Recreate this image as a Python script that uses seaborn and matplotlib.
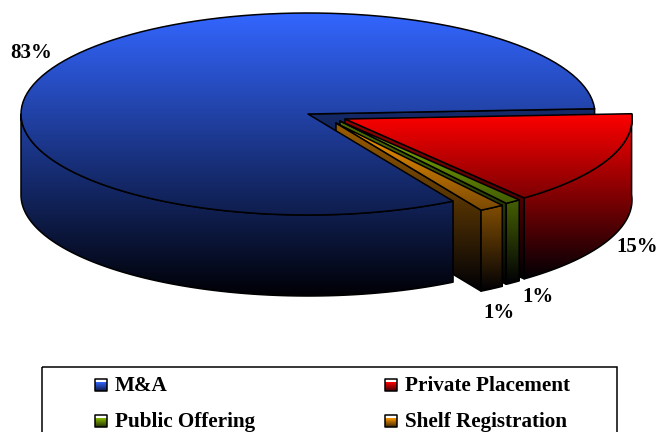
import numpy as np
import seaborn as sns
import matplotlib.pyplot as plt
from matplotlib.patches import Polygon, Rectangle

# Data
categories = ['M&A', 'Private Placement', 'Public Offering', 'Shelf Registration']
shares = [82.6, 15.1, 0.9, 1.4]
pct_labels = ['83%', '15%', '1%', '1%']
base_colors = ['#3366ff', '#ff0000', '#88bb00', '#ff9900']

# Pie geometry, in pixels
RX, RY, DEPTH = 287, 101, 81
START = 3.0
apex = {'M&A': (308, 114), 'Private Placement': (345, 119),
        'Public Offering': (340, 121), 'Shelf Registration': (336, 123)}
label_pos = [(31, 53), (637, 247), (538, 297), (499, 313)]

sns.set_theme(style='white')
plt.rcParams['font.family'] = ['Liberation Serif', 'DejaVu Serif']

fig, ax = plt.subplots(figsize=(6.58, 4.32), dpi=100)
ax.set_position([0, 0, 1, 1])
ax.axis('off')

order = 0


def fill(pts, color, y0, y1, shade=1.0):
    # gradient from the slice colour down to near black, clipped to the polygon
    global order
    order += 1
    top = np.array(plt.matplotlib.colors.to_rgb(color)) * shade
    cmap = sns.blend_palette([top, (0, 0, 0.02)], n_colors=256, as_cmap=True)
    pts = np.array(pts)
    grad = np.linspace(0, 1, 256)[:, None]
    im = ax.imshow(grad, extent=(pts[:, 0].min() - 1, pts[:, 0].max() + 1, y1, y0),
                   cmap=cmap, aspect='auto', zorder=order, vmin=0, vmax=1)
    edge = Polygon(pts, closed=True, fill=False, edgecolor='black', lw=1.1,
                   joinstyle='round', zorder=order + 0.5)
    ax.add_patch(edge)
    im.set_clip_path(edge)


def arc(c, a0, a1, drop=0):
    t = np.radians(np.linspace(a0, a1, 120))
    return np.column_stack([c[0] + RX * np.cos(t), c[1] - RY * np.sin(t) + drop])


def prism(name, a0, a1, color):
    # a0 -> a1 runs counterclockwise, a0 is the left cut seen from the front
    c = apex[name]
    top = arc(c, a0, a1)
    y0 = min(c[1], top[:, 1].min())
    y1 = top[:, 1].max() + DEPTH
    cut = [c, top[0], top[0] + [0, DEPTH], (c[0], c[1] + DEPTH)]
    wall = np.vstack([top, arc(c, a1, a0, DEPTH)])
    fill(cut, color, y0, y1, 0.62)
    fill(wall, color, y0, y1)
    fill(np.vstack([[c], top]), color, y0, y1)


# slices run clockwise from the first one, so walk the angles backwards
spans = np.array(shares) * 3.6
blue_end = START + spans[0]
shelf_end = blue_end + spans[3]
public_end = shelf_end + spans[2]
private_end = public_end + spans[1]

# back cut of the big slice, then the exploded ones, then the big slice on top
c = apex['M&A']
y_top, y_bot = c[1] - RY, c[1] + RY + DEPTH
p = arc(c, START, START, 0)[0]
fill([c, p, p + [0, DEPTH], (c[0], c[1] + DEPTH)], base_colors[0], y_top, y_bot, 0.62)

prism(categories[1], public_end - 360, private_end - 360, base_colors[1])
prism(categories[2], shelf_end - 360, public_end - 360, base_colors[2])
prism(categories[3], blue_end - 360, shelf_end - 360, base_colors[3])

front = arc(c, 180, blue_end)
fill(np.vstack([front, arc(c, blue_end, 180, DEPTH)]), base_colors[0], y_top, y_bot)
fill(np.vstack([[c], arc(c, START, blue_end)]), base_colors[0], y_top, y_bot)

for txt, (x, y) in zip(pct_labels, label_pos):
    ax.text(x, y, txt, ha='center', va='center', fontsize=15, fontweight='bold',
            color='black', zorder=50)

# Legend
ax.add_patch(Rectangle((42, 367), 575, 80, fill=False, edgecolor='black', lw=1.1, zorder=50))
key_x = [95, 385, 95, 385]
row_y = [385, 385, 421, 421]
for name, col, kx, ky in zip(categories, base_colors, key_x, row_y):
    fill([(kx, ky - 6), (kx + 12, ky - 6), (kx + 12, ky + 6), (kx, ky + 6)],
         col, ky - 3, ky + 9)
    ax.text(kx + 20, ky + 1, name, ha='left', va='center', fontsize=15.2, fontweight='bold',
            color='black', zorder=50)

ax.set_xlim(0, 658)
ax.set_ylim(432, 0)
fig.savefig('out.png', dpi=100, facecolor='white')
